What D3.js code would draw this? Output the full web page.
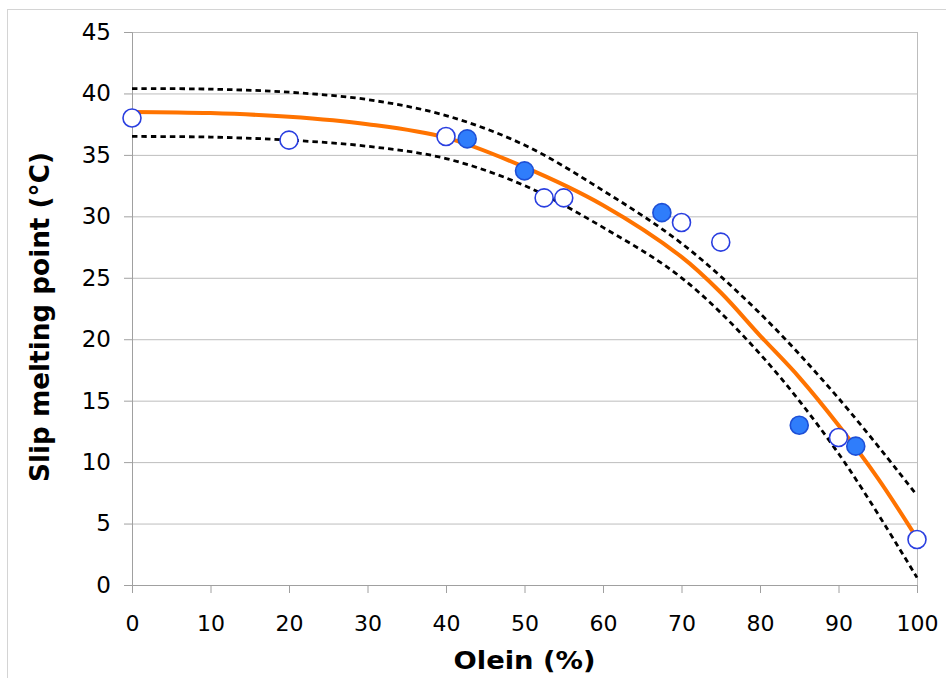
<!DOCTYPE html>
<html>
<head>
<meta charset="utf-8">
<script src="https://cdn.jsdelivr.net/npm/d3@7"></script>
<style>
  body { margin: 0; background: #fff; }
  svg { display: block; font-family: "DejaVu Sans", Verdana, sans-serif; }
</style>
</head>
<body>
<svg id="chart" width="946" height="678"></svg>
<script>
// Fitted curve (orange) and its confidence band (dotted)
const fitX = [0, 10, 20, 30, 40, 50, 60, 70, 75, 80, 85, 90, 95, 100];
const fitY = [38.5, 38.4, 38.1, 37.5, 36.4, 34.0, 30.9, 26.7, 23.8, 20.3, 16.9, 13.0, 8.7, 3.8];

const bandX = [0, 10, 20, 30, 40, 50, 60, 70, 80, 90, 100];
const upperY = [40.4, 40.35, 40.1, 39.5, 38.2, 35.8, 32.1, 27.8, 22.1, 15.2, 7.3];
const lowerY = [36.5, 36.45, 36.2, 35.7, 34.7, 32.5, 29.1, 25.0, 18.8, 10.7, 0.6];

// Measured samples
const openX = [0, 20, 40, 52.5, 55, 70, 75, 90, 100];
const openY = [38.0, 36.2, 36.5, 31.5, 31.5, 29.5, 27.9, 12.0, 3.7];
const filledX = [42.7, 50, 67.5, 85, 92.2];
const filledY = [36.3, 33.7, 30.3, 13.0, 11.3];

const xTicks = d3.range(0, 101, 10);
const yTicks = d3.range(0, 46, 5);

const margin = {left: 132, top: 32, right: 29, bottom: 93};
const width = 946 - margin.left - margin.right;
const height = 678 - margin.top - margin.bottom;

const svg = d3.select("#chart");

// light outer frame
svg.append("rect")
    .attr("x", 7.5).attr("y", 9.5)
    .attr("width", 960).attr("height", 700)
    .style("fill", "none")
    .style("stroke", "#d4d4d4");

const g = svg.append("g").attr("transform", `translate(${margin.left},${margin.top})`);

const x = d3.scaleLinear().domain([0, 100]).range([0, width]);
const y = d3.scaleLinear().domain([0, 45]).range([height, 0]);

// horizontal gridlines
g.selectAll(".grid")
    .data(yTicks)
    .enter().append("line")
    .attr("x1", 0).attr("x2", width)
    .attr("y1", d => y(d) + 0.5).attr("y2", d => y(d) + 0.5)
    .style("stroke", "#bdbdbd")
    .style("stroke-width", 1);

// right border of the plot
g.append("line")
    .attr("x1", width + 0.5).attr("x2", width + 0.5)
    .attr("y1", 0).attr("y2", height)
    .style("stroke", "#bdbdbd");

// y axis
const yAxis = g.append("g")
    .call(d3.axisLeft(y).tickValues(yTicks).tickSize(8).tickPadding(13));
// x axis
const xAxis = g.append("g")
    .attr("transform", `translate(0,${height})`)
    .call(d3.axisBottom(x).tickValues(xTicks).tickSize(8).tickPadding(22));

[xAxis, yAxis].forEach(a => {
    a.select(".domain").style("stroke", "#a0a0a0");
    a.selectAll(".tick line").style("stroke", "#a0a0a0");
    a.selectAll(".tick text")
        .style("font-family", "DejaVu Sans, Verdana, sans-serif")
        .style("fill", "#000");
});
xAxis.selectAll(".tick text").style("font-size", "22px");
yAxis.selectAll(".tick text").style("font-size", "23px");

const line = d3.line()
    .x(d => x(d[0]))
    .y(d => y(d[1]))
    .curve(d3.curveCatmullRom);

// dotted confidence band
[upperY, lowerY].forEach(vals => {
    g.append("path")
        .datum(bandX.map((d, i) => [d, vals[i]]))
        .attr("d", line)
        .style("fill", "none")
        .style("stroke", "#000")
        .style("stroke-width", 2.8)
        .style("stroke-dasharray", "5.5,4");
});

// orange fit
g.append("path")
    .datum(fitX.map((d, i) => [d, fitY[i]]))
    .attr("d", line)
    .style("fill", "none")
    .style("stroke", "#ff7300")
    .style("stroke-width", 4);

// open markers
g.selectAll(".open")
    .data(openX.map((d, i) => [d, openY[i]]))
    .enter().append("circle")
    .attr("cx", d => x(d[0]))
    .attr("cy", d => y(d[1]))
    .attr("r", 9)
    .style("fill", "#fff")
    .style("stroke", "#2a3fe0")
    .style("stroke-width", 1.6);

// filled markers
g.selectAll(".filled")
    .data(filledX.map((d, i) => [d, filledY[i]]))
    .enter().append("circle")
    .attr("cx", d => x(d[0]))
    .attr("cy", d => y(d[1]))
    .attr("r", 9)
    .style("fill", "#2f7dfb")
    .style("stroke", "#1d4fd6")
    .style("stroke-width", 1.6);

// axis titles
svg.append("text")
    .attr("x", margin.left + width / 2)
    .attr("y", 669)
    .attr("text-anchor", "middle")
    .attr("textLength", 142)
    .attr("lengthAdjust", "spacingAndGlyphs")
    .style("font-weight", "bold")
    .style("font-size", "25px")
    .text("Olein (%)");

svg.append("text")
    .attr("transform", `translate(49,317) rotate(-90)`)
    .attr("text-anchor", "middle")
    .attr("textLength", 330)
    .attr("lengthAdjust", "spacingAndGlyphs")
    .style("font-weight", "bold")
    .style("font-size", "27px")
    .text("Slip melting point (°C)");
</script>
</body>
</html>
